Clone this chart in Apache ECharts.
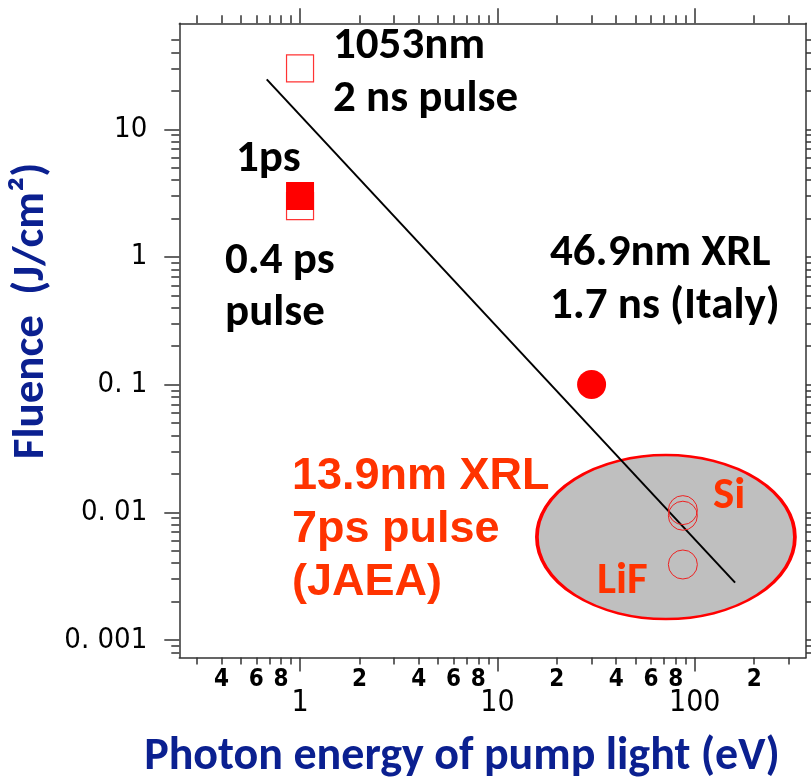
<!DOCTYPE html>
<html><head><meta charset="utf-8">
<script src="https://cdn.jsdelivr.net/npm/echarts@6/dist/echarts.min.js"></script>
<style>html,body{margin:0;padding:0;background:#fff}#c{width:811px;height:778px}</style>
</head><body><div id="c"></div>
<script>
// ---- axis ranges & ticks ----
const X_MIN = 0.2445, X_MAX = 366;
const Y_MIN = 0.000729, Y_MAX = 67.6;
const xMajorTicks = [1, 10, 100];
const xMajorLabels = ['1', '10', '100'];
const xMinorTicks = [0.3,0.4,0.5,0.6,0.7,0.8,0.9, 2,3,4,5,6,7,8,9, 20,30,40,50,60,70,80,90, 200,300];
const xMinorLabelValues = [0.4,0.6,0.8, 2,4,6,8, 20,40,60,80, 200];
const xMinorLabels = ['4','6','8','2','4','6','8','2','4','6','8','2'];
const yMajorTicks = [0.001, 0.01, 0.1, 1, 10];
const yMajorLabels = ['0. 001', '0. 01', '0. 1', '1', '10'];
const yMinorTicks = [0.0008,0.0009,
  0.002,0.003,0.004,0.005,0.006,0.007,0.008,0.009,
  0.02,0.03,0.04,0.05,0.06,0.07,0.08,0.09,
  0.2,0.3,0.4,0.5,0.6,0.7,0.8,0.9,
  2,3,4,5,6,7,8,9, 20,30,40,50];

// ---- data ----
const fitLine = [[0.678, 24.6], [160, 0.00281]];
const pulse1053nm = [[1, 30]];
const pulse04ps = [[1, 2.5]];
const pulse1ps = [[1, 3.0]];
const xrl469nm = [[30, 0.1]];
const xrl139Si = [[87, 0.0104], [87, 0.0094]];
const xrl139LiF = [[87, 0.0039]];
const jaeaRegion = [[71.4, 0.0064]];

function lookup(vals, labels, wrap) {
  return function (v) {
    for (let i = 0; i < vals.length; i++) {
      if (Math.abs(v - vals[i]) / vals[i] < 1e-3) return wrap ? '{t|' + labels[i] + '}' : labels[i];
    }
    return '';
  };
}

const NARROW = "'DejaVu Sans Condensed', 'Liberation Sans', sans-serif";
const CAL = "Carlito, Lato, sans-serif";
const LINE = { color: '#333', width: 1.5 };

function xAxisDef(pos, ticks, len, labelCfg, showLine) {
  return {
    type: 'log', logBase: 10, position: pos, min: X_MIN, max: X_MAX,
    axisLine: { show: showLine, lineStyle: LINE },
    axisTick: { show: true, length: len, customValues: ticks, lineStyle: LINE },
    axisLabel: labelCfg || { show: false },
    splitLine: { show: false }, minorTick: { show: false }
  };
}
function yAxisDef(pos, ticks, len, labelCfg, showLine) {
  return {
    type: 'log', logBase: 10, position: pos, min: Y_MIN, max: Y_MAX,
    axisLine: { show: showLine, lineStyle: LINE },
    axisTick: { show: true, length: len, customValues: ticks, lineStyle: LINE },
    axisLabel: labelCfg || { show: false },
    splitLine: { show: false }, minorTick: { show: false }
  };
}

const chart = echarts.init(document.getElementById('c'), null, { renderer: 'canvas' });

const BLACK_TXT = { fontFamily: CAL, fontWeight: 'bold', fontSize: 45, fill: '#000', textAlign: 'left', textVerticalAlign: 'middle' };
const RED = '#ff3300';
function txt(text, x, y, extra) {
  return { type: 'text', silent: true, z: 100, style: Object.assign({}, BLACK_TXT, { text: text, x: x, y: y }, extra || {}) };
}
const ARIAL_RED = { fontFamily: "'Liberation Sans', Arial, sans-serif", fontSize: 45, fill: RED };

chart.setOption({
  animation: false,
  backgroundColor: '#fff',
  grid: { left: 179.3, right: 5, top: 23.3, bottom: 120.5, containLabel: false, outerBoundsMode: 'none' },
  xAxis: [
    xAxisDef('bottom', xMajorTicks, 14, {
      show: true, customValues: xMajorTicks, formatter: lookup(xMajorTicks, xMajorLabels),
      fontFamily: NARROW, fontSize: 30, color: '#000', margin: 31
    }, true),
    xAxisDef('bottom', xMinorTicks, 7, {
      show: true, customValues: xMinorLabelValues, formatter: lookup(xMinorLabelValues, xMinorLabels),
      fontFamily: NARROW, fontSize: 24, fontWeight: 'bold', color: '#000', margin: 10
    }, false),
    xAxisDef('top', xMajorTicks, 15, null, true),
    xAxisDef('top', xMinorTicks, 8, null, false)
  ],
  yAxis: [
    yAxisDef('left', yMajorTicks, 15, {
      show: true, customValues: yMajorTicks, formatter: lookup(yMajorTicks, yMajorLabels, true),
      fontFamily: NARROW, fontSize: 29, color: '#000', margin: 32, overflow: 'none', hideOverlap: false,
      rich: { t: { fontFamily: NARROW, fontSize: 29, color: '#000', overflow: 'none' } }
    }, true),
    yAxisDef('left', yMinorTicks, 8, null, false),
    yAxisDef('right', yMajorTicks, 15, null, true),
    yAxisDef('right', yMinorTicks, 8, null, false)
  ],
  series: [
    { type: 'scatter', silent: true, z: 1, data: jaeaRegion, symbol: 'circle', symbolSize: [258, 164],
      itemStyle: { color: '#bfbfbf', borderColor: '#ff0000', borderWidth: 3, opacity: 1 } },
    { type: 'line', silent: true, z: 3, data: fitLine, symbol: 'none',
      lineStyle: { color: '#000', width: 2 } },
    { type: 'scatter', silent: true, z: 4, data: pulse1053nm, symbol: 'rect', symbolSize: 27,
      itemStyle: { color: '#fff', borderColor: '#ff3333', borderWidth: 1.2, opacity: 1 } },
    { type: 'scatter', silent: true, z: 4, data: pulse04ps, symbol: 'rect', symbolSize: 27,
      itemStyle: { color: '#fff', borderColor: '#ff3333', borderWidth: 1.2, opacity: 1 } },
    { type: 'scatter', silent: true, z: 5, data: pulse1ps, symbol: 'rect', symbolSize: 28,
      itemStyle: { color: '#ff0000', opacity: 1 } },
    { type: 'scatter', silent: true, z: 4, data: xrl469nm, symbol: 'circle', symbolSize: 29,
      itemStyle: { color: '#ff0000', opacity: 1 } },
    { type: 'scatter', silent: true, z: 4, data: xrl139Si, symbol: 'circle', symbolSize: 29,
      itemStyle: { color: 'rgba(0,0,0,0)', borderColor: '#ee2222', borderWidth: 1, opacity: 1 } },
    { type: 'scatter', silent: true, z: 4, data: xrl139LiF, symbol: 'circle', symbolSize: 29,
      itemStyle: { color: 'rgba(0,0,0,0)', borderColor: '#ee2222', borderWidth: 1, opacity: 1 } }
  ],
  graphic: [
    txt('1053nm', 333, 47),
    txt('2 ns pulse', 333, 100),
    txt('1ps', 236, 160),
    txt('0.4 ps', 225, 262),
    txt('pulse', 225, 314),
    txt('46.9nm XRL', 550, 254),
    txt('1.7 ns (Italy)', 550, 307),
    txt('13.9nm XRL', 292, 477, ARIAL_RED),
    txt('7ps pulse', 292, 530, ARIAL_RED),
    txt('(JAEA)', 292, 583, ARIAL_RED),
    txt('Si', 713, 497, { fill: RED }),
    txt('LiF', 597, 582, { fill: RED }),
    { type: 'text', silent: true, z: 100, x: 462, y: 757,
      style: { text: 'Photon energy of pump light (eV)', fontFamily: CAL, fontWeight: 'bold', fontSize: 46,
               fill: '#0b2090', textAlign: 'center', textVerticalAlign: 'middle' } },
    { type: 'text', silent: true, z: 100, x: 32, y: 311, rotation: Math.PI / 2,
      style: { text: 'Fluence  (J/cm\u00b2)', fontFamily: CAL, fontWeight: 'bold', fontSize: 45,
               fill: '#0b2090', textAlign: 'center', textVerticalAlign: 'middle' } }
  ]
});
</script>
</body></html>
